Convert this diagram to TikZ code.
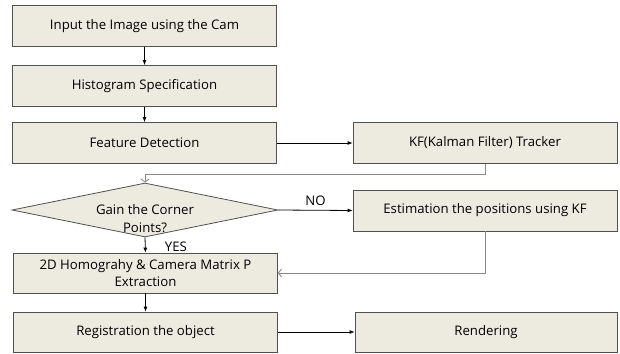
\documentclass[tikz,border=0pt]{standalone}
\usepackage{fontspec}
\setmainfont{Open Sans}
\usepackage{tikz}
\usetikzlibrary{shapes.geometric,arrows.meta}
\definecolor{boxfill}{HTML}{EDEAE0}
\definecolor{boxline}{HTML}{505050}
\definecolor{backline}{HTML}{8A8A8A}

\begin{document}
\begin{tikzpicture}[x=1pt,y=-1pt,font=\fontsize{13.2}{17.5}\selectfont,
	stepbox/.style={draw=boxline,fill=boxfill,line width=0.8pt,minimum width=264pt,minimum height=41pt,inner sep=2pt,align=center},
	decision/.style={diamond,draw=boxline,fill=boxfill,line width=0.8pt,aspect=4.9,inner sep=0pt,minimum width=266pt,minimum height=54pt},
	flow/.style={line width=0.8pt,-{Latex[length=5pt,width=4pt]}},
	back/.style={draw=backline,line width=0.9pt,-{Straight Barb[length=3pt,width=8pt]}}]
			\useasboundingbox (0,0) rectangle (620,353);

			\node[stepbox] (inp) at (144.5,26) {Input the Image using the Cam};
			\node[stepbox] (hist) at (144.5,86) {Histogram Specification};
			\node[stepbox] (feat) at (144.5,143) {Feature Detection};
			\node[stepbox] (kf) at (485,143) {KF(Kalman Filter) Tracker};
			\node[decision] (gain) at (145,210) {};
			\node[align=center,inner sep=0pt] (gaintxt) at (145,218.5) {Gain the Corner\\Points?};
			\node[stepbox] (est) at (485,210.5) {Estimation the positions using KF};
			\node[stepbox,minimum height=40pt] (homo) at (145.5,273) {2D Homograhy \& Camera Matrix P\\Extraction};
			\node[stepbox,minimum height=40pt] (reg) at (145.5,332) {Registration the object};
			\node[stepbox,minimum height=40pt,minimum width=262pt] (rend) at (486,332) {Rendering};

			\draw[flow] (inp) -- (hist);
			\draw[flow] (hist) -- (feat);
			\draw[flow] (feat) -- (kf);
			\draw[back] (kf.south) |- (145,174) -- (gain.north);
			\draw[flow] (gain.east) -- node[above,yshift=1pt] (no) {NO} (est.west);
			\draw[flow] (gain.south) -- node[right,xshift=16pt,yshift=-2pt] (yes) {YES} (homo.north);
			\draw[back] (est.south) |- (homo.east);
			\draw[flow] (homo) -- (reg);
			\draw[flow] (reg) -- (rend);
		\end{tikzpicture}
\end{document}
